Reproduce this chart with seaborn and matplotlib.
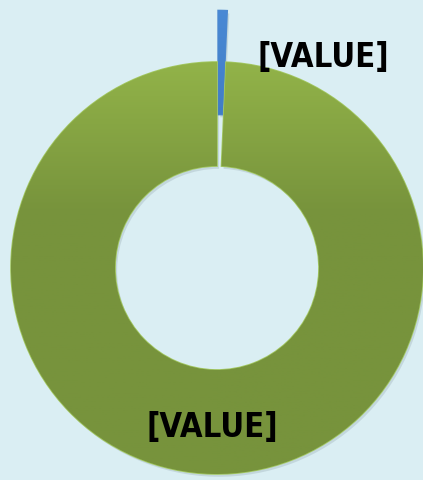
import numpy as np
import matplotlib
matplotlib.use("Agg")
import matplotlib.pyplot as plt
import matplotlib.patheffects as pe
from matplotlib.colors import LinearSegmentedColormap
from matplotlib import font_manager
import seaborn as sns

# data
categories = ["Blue", "Green"]
values = [0.7, 99.3]
labels = ["[VALUE]", "[VALUE]"]

sns.set_theme(style="white")
plt.rcParams["font.family"] = ["DejaVu Sans", "Liberation Sans"]

bg = "#DAEEF3"
fig = plt.figure(figsize=(4.23, 4.80), dpi=100, facecolor=bg)
ax = fig.add_axes([0, 0, 1, 1], facecolor=bg)

cx, cy, R = 217, 212, 206
wedges, _ = ax.pie(values, colors=["#3E7BC4", "#77933C"], startangle=90,
                   counterclock=False, radius=R, center=(cx, cy),
                   explode=[0.25 * R, 0], wedgeprops=dict(width=R * 0.505, linewidth=1.2),
                   frame=True)
ax.set_xlim(0, 423)
ax.set_ylim(0, 480)
ax.set_aspect("equal")
ax.axis("off")

# gradients clipped to the wedges
grads = [("#4A8AD6", "#3A72B8"), ("#9DC04E", "#77933C")]
for w, (c1, c2) in zip(wedges, grads):
    w.set_edgecolor("#A3C862" if w is wedges[1] else "#4F8ACF")
    w.set_path_effects([pe.SimplePatchShadow(offset=(1.5, -2), alpha=0.2, shadow_rgbFace="#6A7F88"),
                        pe.Normal()])
    cmap = LinearSegmentedColormap.from_list("g", [c1, c2])
    grad = np.linspace(0, 1, 256).reshape(-1, 1)
    grad = np.clip(grad / 0.45, 0, 1)
    top = cy + R * 1.3
    im = ax.imshow(grad, cmap=cmap, aspect="auto", extent=(cx - R, cx + R, cy - R, top),
                   origin="upper", zorder=w.get_zorder() + 0.1)
    im.set_clip_path(w)

# labels
fp = font_manager.FontProperties(family="DejaVu Sans", stretch="condensed", weight="bold", size=23.5)
lab_pos = []
for w in wedges:
    ang = np.deg2rad((w.theta1 + w.theta2) / 2)
    lab_pos.append(ang)
ax.text(cx + 106, cy + 211, labels[0], ha="center", va="center",
        fontproperties=fp, color="black", zorder=5)
r_mid = R * (1 - 0.505 / 2)
ax.text(cx + r_mid * np.cos(lab_pos[1]) - 1, cy + r_mid * np.sin(lab_pos[1]) - 6, labels[1],
        ha="center", va="center", fontproperties=fp, color="black", zorder=5)

fig.savefig("out.png", dpi=100, facecolor=bg)
